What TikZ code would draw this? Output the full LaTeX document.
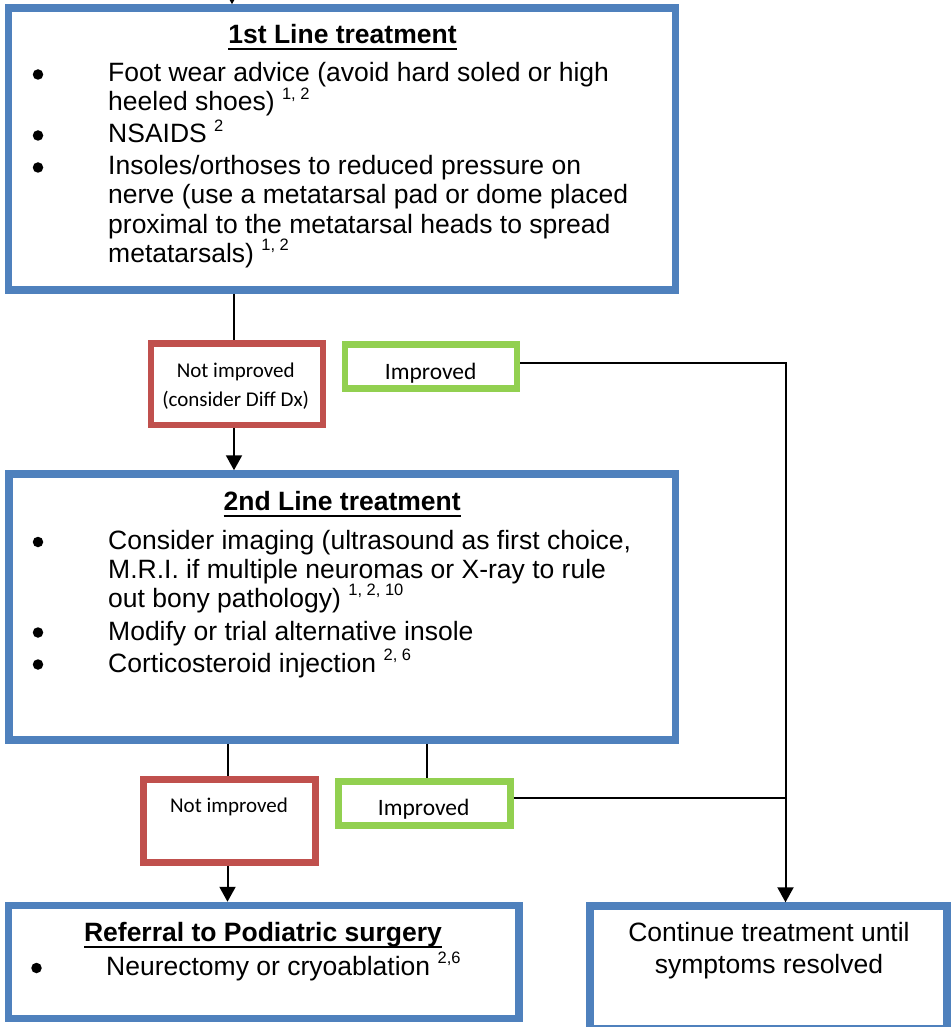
\documentclass[tikz,border=0pt]{standalone}
\usepackage{fontspec}
\setmainfont{Liberation Sans}
\newfontfamily\calib{Carlito}
\usetikzlibrary{arrows.meta}

\definecolor{boxblue}{RGB}{79,129,189}
\definecolor{boxred}{RGB}{192,80,77}
\definecolor{boxgreen}{RGB}{146,208,80}

% reference numbers set as raised small figures
\newcommand\refsup[1]{\raisebox{11.5pt}{\fontsize{16.5}{17}\selectfont #1}}
% underlined heading with the rule close under the baseline
\newsavebox\headbox
\newcommand\ultitle[1]{\sbox\headbox{#1}\rlap{\rule[-6.5pt]{\wd\headbox}{2.2pt}}\usebox\headbox}

\tikzset{
  body/.style={font=\fontsize{26.5}{29}\selectfont, inner sep=0pt, anchor=base west},
  centred/.style={font=\fontsize{26.5}{29}\selectfont, inner sep=0pt, anchor=base},
  head/.style={font=\bfseries\fontsize{26.5}{29}\selectfont, inner sep=0pt, anchor=base},
  smalltxt/.style={font=\calib\fontsize{21}{25}\selectfont, inner sep=0pt, anchor=base},
  bigtxt/.style={font=\calib\fontsize{23.5}{27}\selectfont, inner sep=0pt, anchor=base},
  bulletdot/.style={circle, fill=black, inner sep=0pt, minimum size=10.5pt},
  bluebox/.style={draw=boxblue, line width=7.5pt, rectangle, inner sep=0pt},
  redbox/.style={draw=boxred, line width=6.5pt, rectangle, inner sep=0pt},
  greenbox/.style={draw=boxgreen, line width=6.5pt, rectangle, inner sep=0pt},
  link/.style={line width=2pt, black},
  arrowlink/.style={link, -{Triangle[length=15pt,width=16pt]}},
}

\begin{document}
\begin{tikzpicture}[x=1pt, y=-1pt]
\path[use as bounding box, fill=white] (0,0) rectangle (950,1027);

% ---------- boxes ----------
\node[bluebox, minimum width=667pt, minimum height=282pt] (line1) at (342,149) {};
\node[redbox, minimum width=172.3pt, minimum height=81.7pt] (nimp1) at (236.9,384.2) {};
\node[greenbox, minimum width=172pt, minimum height=44.4pt] (imp1) at (431,366.5) {};
\node[bluebox, minimum width=666.5pt, minimum height=266pt] (line2) at (342.3,607) {};
\node[redbox, minimum width=172pt, minimum height=82.8pt] (nimp2) at (229.7,821.1) {};
\node[greenbox, minimum width=172pt, minimum height=44pt] (imp2) at (424.7,803.7) {};
\node[bluebox, minimum width=510.3pt, minimum height=112.8pt] (referral) at (263.6,961.9) {};
\node[bluebox, minimum width=357pt, minimum height=122.5pt] (cont) at (768.5,967.3) {};

% ---------- 1st line treatment ----------
\node[head] (h1) at (342.5,43.5) {\ultitle{1st Line treatment}};
\node[bulletdot] (p1) at (38,74.5) {};
\node[bulletdot] (p2) at (38,135.5) {};
\node[bulletdot] (p3) at (38,167.5) {};
\node[body] (a1) at (108,82) {Foot wear advice (avoid hard soled or high};
\node[body] (a2) at (108,111) {heeled shoes) \refsup{1, 2}};
\node[body] (a3) at (108,143) {NSAIDS \refsup{2}};
\node[body] (a4) at (108,175) {Insoles/orthoses to reduced pressure on};
\node[body] (a5) at (108,204) {nerve (use a metatarsal pad or dome placed};
\node[body] (a6) at (108,233) {proximal to the metatarsal heads to spread};
\node[body] (a7) at (108,262) {metatarsals) \refsup{1, 2}};

% ---------- outcome boxes after 1st line ----------
\node[smalltxt] (n1a) at (235.7,377) {Not improved};
\node[smalltxt] (n1b) at (235.7,406) {(consider Diff Dx)};
\node[bigtxt] (i1t) at (430.7,379) {Improved};

% ---------- 2nd line treatment ----------
\node[head] (h2) at (342.2,510.7) {\ultitle{2nd Line treatment}};
\node[bulletdot] (q1) at (38,542) {};
\node[bulletdot] (q2) at (38,632.5) {};
\node[bulletdot] (q3) at (38,664.5) {};
\node[body] (b1) at (108,549.5) {Consider imaging (ultrasound as first choice,};
\node[body] (b2) at (108,578) {M.R.I. if multiple neuromas or X-ray to rule};
\node[body] (b3) at (108,607) {out bony pathology) \refsup{1, 2, 10}};
\node[body] (b4) at (108,640) {Modify or trial alternative insole};
\node[body] (b5) at (108,672) {Corticosteroid injection \refsup{2, 6}};

% ---------- outcome boxes after 2nd line ----------
\node[smalltxt] (n2t) at (229,812.3) {Not improved};
\node[bigtxt] (i2t) at (423.7,815.7) {Improved};

% ---------- referral ----------
\node[head] (h3) at (263,941.7) {\ultitle{Referral to Podiatric surgery}};
\node[bulletdot] (r1) at (36.5,968) {};
\node[body] (c1) at (106,975) {Neurectomy or cryoablation \refsup{2,6}};

% ---------- continue ----------
\node[centred] (d1) at (769,941.7) {Continue treatment until};
\node[centred] (d2) at (769,973.3) {symptoms resolved};

% ---------- connectors ----------
\coordinate (topin) at (232,-16);
\coordinate (colA) at (234,0);
\coordinate (colB) at (227.5,0);
\coordinate (colC) at (427,0);
\coordinate (colD) at (785.5,0);
\coordinate (rowA) at (0,362.5);
\coordinate (rowB) at (0,798);

\draw[arrowlink] (topin) -- (topin |- line1.north);
\draw[link] (colA |- line1.south) -- (colA |- nimp1.north);
\draw[arrowlink] (colA |- nimp1.south) -- (colA |- line2.north);
\draw[link] (colB |- line2.south) -- (colB |- nimp2.north);
\draw[arrowlink] (colB |- nimp2.south) -- (colB |- referral.north);
\draw[link] (colC |- line2.south) -- (colC |- imp2.north);
\draw[arrowlink] (imp1.east |- rowA) -- (colD |- rowA) -- (colD |- cont.north);
\draw[link] (imp2.east |- rowB) -- (colD |- rowB);
\end{tikzpicture}
\end{document}
